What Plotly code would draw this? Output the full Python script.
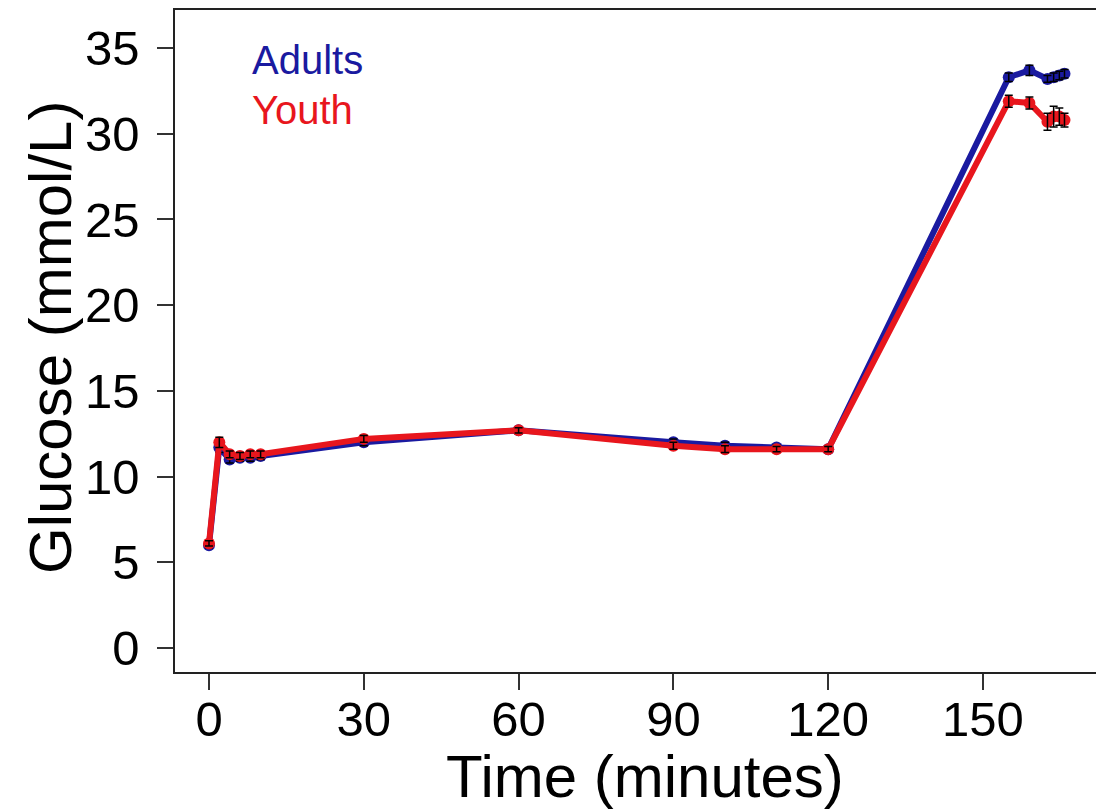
import plotly.graph_objects as go

time_adults = [0, 2, 4, 6, 8, 10, 30, 60, 90, 100, 110, 120, 155, 159, 162.5, 163.7, 164.8, 165.8]
glucose_adults = [6.0, 11.7, 11.0, 11.1, 11.1, 11.2, 12.0, 12.7, 12.0, 11.8, 11.7, 11.6, 33.3, 33.7, 33.2, 33.3, 33.4, 33.5]
err_adults = [0.15, 0.3, 0.2, 0.2, 0.2, 0.2, 0.2, 0.15, 0.2, 0.2, 0.15, 0.15, 0.25, 0.3, 0.2, 0.25, 0.25, 0.25]

time_youth = [0, 2, 4, 6, 8, 10, 30, 60, 90, 100, 110, 120, 155, 159, 162.5, 163.7, 164.8, 165.8]
glucose_youth = [6.1, 12.0, 11.3, 11.2, 11.3, 11.3, 12.2, 12.7, 11.8, 11.6, 11.6, 11.6, 31.9, 31.8, 30.7, 31.0, 31.0, 30.8]
err_youth = [0.15, 0.3, 0.2, 0.2, 0.2, 0.2, 0.2, 0.15, 0.2, 0.2, 0.15, 0.15, 0.35, 0.35, 0.5, 0.6, 0.5, 0.4]

x_ticks = [0, 30, 60, 90, 120, 150]
y_ticks = [0, 5, 10, 15, 20, 25, 30, 35]

BLUE = "#1a1aa0"
RED = "#e8161d"
FONT = "Liberation Sans, Arial, sans-serif"

fig = go.Figure()
for t, g, e, c in [(time_adults, glucose_adults, err_adults, BLUE),
                   (time_youth, glucose_youth, err_youth, RED)]:
    fig.add_trace(go.Scatter(x=t, y=g, mode="lines+markers",
                             line=dict(color=c, width=6),
                             marker=dict(color=c, size=12, symbol="circle"),
                             showlegend=False, hoverinfo="skip"))
    fig.add_trace(go.Scatter(x=t, y=g, mode="markers",
                             marker=dict(color=c, size=1, opacity=0),
                             error_y=dict(type="data", array=e, visible=True,
                                          color="black", thickness=1.5, width=4),
                             showlegend=False, hoverinfo="skip"))

axis_common = dict(showline=True, linecolor="#222", linewidth=1.5, mirror=True,
                   ticks="outside", ticklen=16, tickwidth=1.5, tickcolor="#333",
                   showgrid=False, zeroline=False,
                   tickfont=dict(family=FONT, size=49, color="black"))

fig.update_xaxes(range=[-6.59, 172.1], tickmode="array", tickvals=x_ticks,
                 ticktext=[str(v) for v in x_ticks], ticklabelstandoff=-13, **axis_common)
fig.update_yaxes(range=[-1.4, 37.22], tickmode="array", tickvals=y_ticks,
                 ticktext=[str(v) for v in y_ticks], ticklabelstandoff=8, **axis_common)

PH = 662
fig.add_annotation(text="Time (minutes)", xref="paper", yref="paper",
                   x=(645 - 175) / 922, y=0, yanchor="middle", yshift=-104,
                   showarrow=False, font=dict(family=FONT, size=60, color="black"))
fig.add_annotation(text="Glucose (mmol/L)", xref="paper", yref="paper",
                   x=0, y=(672 - 338) / PH, xanchor="center", xshift=-125, textangle=-90,
                   showarrow=False, font=dict(family=FONT, size=60, color="black"))
fig.add_annotation(text="Adults", xref="paper", yref="paper",
                   x=(250 - 175) / 922, y=(672 - 60) / PH, xanchor="left", yanchor="middle",
                   showarrow=False, font=dict(family=FONT, size=40, color=BLUE))
fig.add_annotation(text="Youth", xref="paper", yref="paper",
                   x=(250 - 175) / 922, y=(672 - 110) / PH, xanchor="left", yanchor="middle",
                   showarrow=False, font=dict(family=FONT, size=40, color=RED))

fig.update_layout(width=1104, height=809,
                  margin=dict(l=167, r=15, t=2, b=145, autoexpand=False),
                  plot_bgcolor="white", paper_bgcolor="white",
                  font=dict(family=FONT))

fig.write_html("out.html")
